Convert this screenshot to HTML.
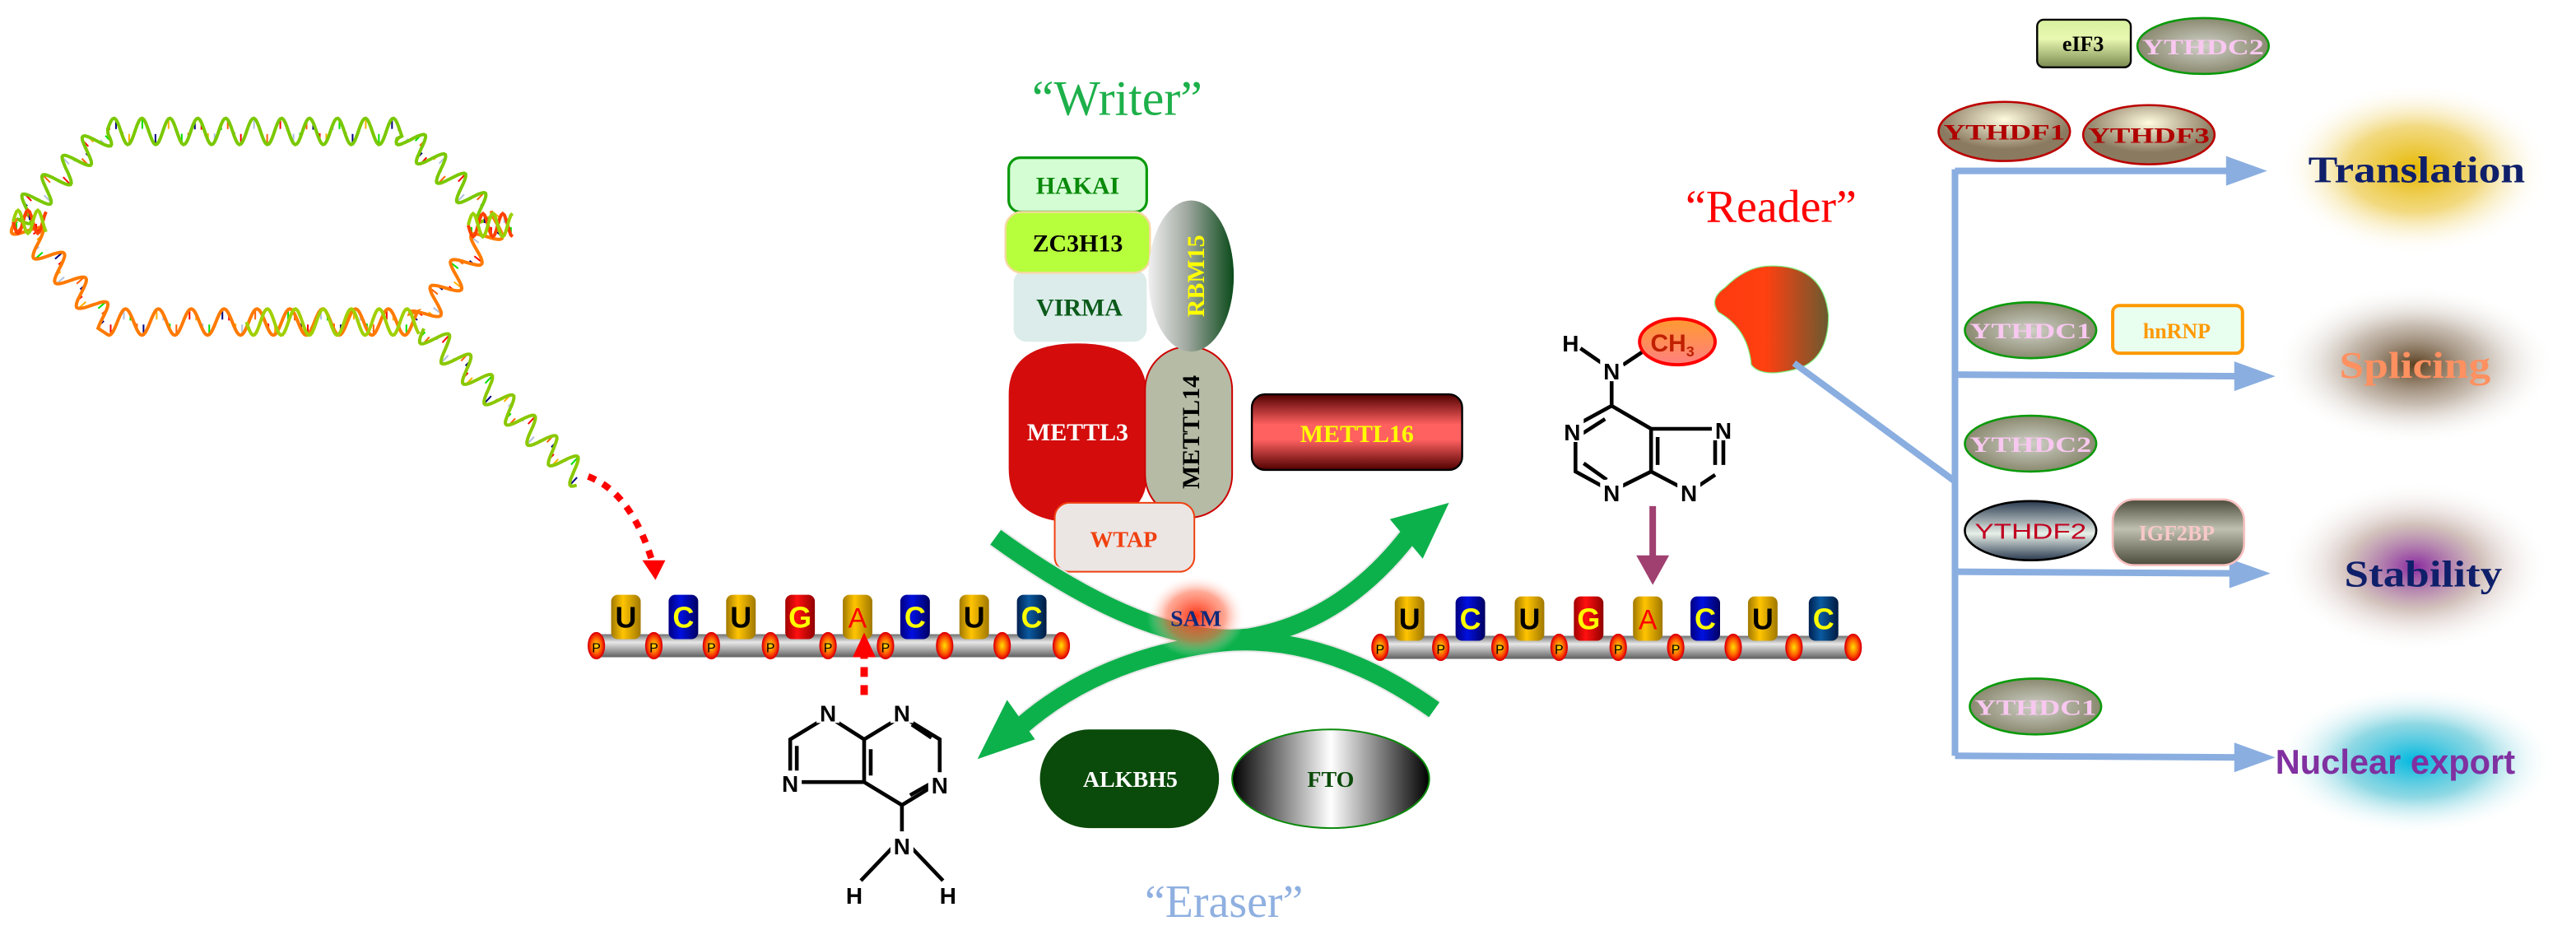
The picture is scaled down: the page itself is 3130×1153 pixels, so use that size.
<!DOCTYPE html>
<html><head><meta charset="utf-8"><style>
html,body{margin:0;padding:0;background:#fff;}
svg{display:block}
</style></head><body>
<svg id="s" width="3130" height="1153" viewBox="0 0 1568 577.6" preserveAspectRatio="none" xmlns="http://www.w3.org/2000/svg" font-family="Liberation Serif, serif" font-weight="bold">
<defs>
<radialGradient id="gTr"><stop offset="0" stop-color="#e6b800"/><stop offset="0.5" stop-color="#efd060" stop-opacity="0.8"/><stop offset="1" stop-color="#fff" stop-opacity="0"/></radialGradient>
<radialGradient id="gSp"><stop offset="0" stop-color="#5a4020"/><stop offset="0.5" stop-color="#b0a090" stop-opacity="0.7"/><stop offset="1" stop-color="#fff" stop-opacity="0"/></radialGradient>
<radialGradient id="gSt"><stop offset="0" stop-color="#8a2aa0"/><stop offset="0.5" stop-color="#c0a8a0" stop-opacity="0.7"/><stop offset="1" stop-color="#fff" stop-opacity="0"/></radialGradient>
<radialGradient id="gNu"><stop offset="0" stop-color="#00b8e0"/><stop offset="0.5" stop-color="#60c8d8" stop-opacity="0.7"/><stop offset="1" stop-color="#fff" stop-opacity="0"/></radialGradient>
<radialGradient id="gSam"><stop offset="0" stop-color="#ff3010"/><stop offset="0.6" stop-color="#ff7050" stop-opacity="0.6"/><stop offset="1" stop-color="#fff" stop-opacity="0"/></radialGradient>
<radialGradient id="gY"><stop offset="0" stop-color="#d0d0c8"/><stop offset="1" stop-color="#8a8a70"/></radialGradient>
<radialGradient id="gYF" cy="0.3"><stop offset="0" stop-color="#fffce0"/><stop offset="1" stop-color="#8a7a60"/></radialGradient>
<linearGradient id="gYF2" x1="0" y1="0" x2="0" y2="1"><stop offset="0" stop-color="#2a3a50"/><stop offset="0.55" stop-color="#e8f0e8"/><stop offset="1" stop-color="#2a3a50"/></linearGradient>
<linearGradient id="gIG" x1="0" y1="0" x2="0" y2="1"><stop offset="0" stop-color="#4a4a3a"/><stop offset="0.45" stop-color="#c0c0b0"/><stop offset="1" stop-color="#4a4a3a"/></linearGradient>
<linearGradient id="gEIF" x1="0" y1="0" x2="0" y2="1"><stop offset="0" stop-color="#d8f0a0"/><stop offset="0.4" stop-color="#e8f8b0"/><stop offset="1" stop-color="#7a8a50"/></linearGradient>
<linearGradient id="gRBM" x1="0" y1="0" x2="1" y2="0"><stop offset="0" stop-color="#f0f0f0"/><stop offset="0.45" stop-color="#a0a8a0"/><stop offset="1" stop-color="#0a4a1a"/></linearGradient>
<linearGradient id="gM16" x1="0" y1="0" x2="0" y2="1"><stop offset="0" stop-color="#500000"/><stop offset="0.4" stop-color="#ff6060"/><stop offset="0.6" stop-color="#ff6060"/><stop offset="1" stop-color="#500000"/></linearGradient>
<linearGradient id="gFTO" x1="0" y1="0" x2="1" y2="0"><stop offset="0" stop-color="#000"/><stop offset="0.5" stop-color="#fff"/><stop offset="1" stop-color="#000"/></linearGradient>
<linearGradient id="gRd" x1="0" y1="0" x2="1" y2="0"><stop offset="0" stop-color="#ff3a10"/><stop offset="0.45" stop-color="#ff4010"/><stop offset="1" stop-color="#6a5a30"/></linearGradient>
<linearGradient id="gCH" x1="0" y1="0" x2="0" y2="1"><stop offset="0" stop-color="#ff9a30"/><stop offset="1" stop-color="#ff8080"/></linearGradient>
<linearGradient id="gCyl" x1="0" y1="0" x2="0" y2="1"><stop offset="0" stop-color="#707070"/><stop offset="0.35" stop-color="#e8e8e8"/><stop offset="1" stop-color="#606060"/></linearGradient>
<linearGradient id="gGold" x1="0" y1="0" x2="1" y2="0"><stop offset="0" stop-color="#a07800"/><stop offset="0.4" stop-color="#ffc400"/><stop offset="1" stop-color="#a07800"/></linearGradient>
<linearGradient id="gBlue" x1="0" y1="0" x2="1" y2="0"><stop offset="0" stop-color="#000080"/><stop offset="0.4" stop-color="#0010e0"/><stop offset="1" stop-color="#000060"/></linearGradient>
<linearGradient id="gBlue2" x1="0" y1="0" x2="1" y2="0"><stop offset="0" stop-color="#002050"/><stop offset="0.4" stop-color="#0a5aa0"/><stop offset="1" stop-color="#001a40"/></linearGradient>
<linearGradient id="gRed" x1="0" y1="0" x2="1" y2="0"><stop offset="0" stop-color="#a00000"/><stop offset="0.4" stop-color="#ff1010"/><stop offset="1" stop-color="#900000"/></linearGradient>
<radialGradient id="gP"><stop offset="0" stop-color="#ffe000"/><stop offset="0.6" stop-color="#ff6000"/><stop offset="1" stop-color="#e00000"/></radialGradient>
</defs>

<g id="dna"></g>
<path d="M358,290 Q385,300 398,345" fill="none" stroke="#f00" stroke-width="4" stroke-dasharray="5,5"/>
<polygon points="391,341 405,341 399,353" fill="#f00"/>

<g id="rna"></g>

<!-- left adenine -->
<line x1="526" y1="395" x2="526" y2="428" stroke="#f00" stroke-width="4.5" stroke-dasharray="6,5"/>
<polygon points="519,400 533,400 526,385" fill="#f00"/>
<g stroke="#000" stroke-width="2.3" fill="none">
<path d="M504,436 L526,450 L549,436 M526,450 L526,476 L549,490 L572,476 L572,450 L549,436 M526,476 L481,476 L481,450 L504,436 M549,490 L549,514 M545,514 L524,536 M553,514 L574,536"/>
<path d="M530,456 L530,472 M485,454 L485,472 M554,484 L568,476 M555,441 L567,449"/>
</g>
<g font-family="Liberation Sans, sans-serif" font-size="14" text-anchor="middle">
<rect x="497" y="426" width="14" height="14" fill="#fff"/><text x="504" y="439">N</text>
<rect x="542" y="426" width="14" height="14" fill="#fff"/><text x="549" y="439">N</text>
<rect x="474" y="469" width="14" height="14" fill="#fff"/><text x="481" y="482">N</text>
<rect x="565" y="470" width="14" height="14" fill="#fff"/><text x="572" y="483">N</text>
<rect x="542" y="506" width="14" height="15" fill="#fff"/><text x="549" y="520">N</text>
<text x="520" y="550">H</text><text x="577" y="550">H</text>
</g>

<!-- writer -->
<text x="680" y="70" font-size="30" fill="#1db04a" text-anchor="middle" font-weight="normal">“Writer”</text>
<rect x="614" y="96" width="84" height="33" rx="7" fill="#d4fdd4" stroke="#0a9a0a" stroke-width="1.6"/>
<text x="656" y="118" font-size="15" fill="#0a8a0a" text-anchor="middle">HAKAI</text>
<rect x="617" y="164" width="81" height="44" rx="8" fill="#dbecea"/>
<rect x="612" y="129" width="88" height="37" rx="10" fill="#b7ff3c" stroke="#f5d8a0" stroke-width="1.2"/>
<text x="656" y="153" font-size="15" fill="#000" text-anchor="middle">ZC3H13</text>
<text x="657" y="192" font-size="15" fill="#0b5a1a" text-anchor="middle">VIRMA</text>
<path d="M614,240 Q614,209 656,209 Q698,209 698,240 L698,290 Q698,318 656,318 Q614,318 614,285 Z" fill="#d40c0c"/>
<text x="656" y="268" font-size="15" fill="#fff" text-anchor="middle">METTL3</text>
<rect x="697" y="211" width="53" height="104" rx="26" fill="#b5bba5" stroke="#c00" stroke-width="1"/>
<text transform="translate(730,263) rotate(-90)" font-size="15" fill="#000" text-anchor="middle">METTL14</text>
<ellipse cx="725" cy="168" rx="26" ry="46" fill="url(#gRBM)"/>
<text transform="translate(733,168) rotate(-90)" font-size="15" fill="#ffff00" text-anchor="middle">RBM15</text>
<rect x="642" y="306" width="85" height="42" rx="9" fill="#ebe5e3" stroke="#f04010" stroke-width="1"/>
<text x="684" y="333" font-size="14" fill="#f04010" text-anchor="middle">WTAP</text>
<rect x="762" y="240" width="128" height="46" rx="8" fill="url(#gM16)" stroke="#000" stroke-width="1.2"/>
<text x="826" y="269" font-size="15" fill="#ffff00" text-anchor="middle">METTL16</text>

<!-- green arrows -->
<g fill="none" stroke="#e8e8e8" stroke-width="13"><path d="M606,327 Q700,395 760,388 Q820,378 862,320"/><path d="M873,432 Q800,380 730,393 Q660,405 615,448"/></g>
<g fill="none" stroke="#0db14b" stroke-width="11"><path d="M606,327 Q700,395 760,388 Q820,378 862,320"/><path d="M873,432 Q800,380 730,393 Q660,405 615,448"/></g>
<polygon points="846,316 882,306 866,340" fill="#0db14b"/>
<polygon points="595,462 613,426 630,450" fill="#0db14b"/>
<ellipse cx="728" cy="375" rx="30" ry="25" fill="url(#gSam)"/>
<text x="728" y="381" font-size="14" fill="#0f2a7a" text-anchor="middle">SAM</text>

<!-- eraser -->
<rect x="633" y="444" width="109" height="60" rx="30" fill="#0a4a0a"/>
<text x="688" y="479" font-size="14" fill="#fff" text-anchor="middle">ALKBH5</text>
<ellipse cx="810" cy="474" rx="60" ry="30" fill="url(#gFTO)" stroke="#0a8a0a" stroke-width="1"/>
<text x="810" y="479" font-size="14" fill="#0a4a0a" text-anchor="middle">FTO</text>
<text x="745" y="558" font-size="28" fill="#8fb0e0" text-anchor="middle" font-weight="normal">“Eraser”</text>

<!-- reader -->
<text x="1078" y="135" font-size="28" fill="#f00" text-anchor="middle" font-weight="normal">“Reader”</text>
<path d="M1075,162 Q1110,160 1113,192 Q1113,220 1092,225 Q1072,230 1066,222 Q1064,200 1046,190 Q1040,182 1050,175 Q1062,163 1075,162 Z" fill="url(#gRd)" stroke="#80f080" stroke-width="0.6"/>
<line x1="1092" y1="221" x2="1190" y2="293" stroke="#8aaee0" stroke-width="4"/>
<g stroke="#000" stroke-width="2.3" fill="none">
<path d="M981,231 L981,247 L959,259 L959,287 L981,299 L1005,287 L1005,261 L981,247 M1005,261 L1043,261 M1049,266 L1049,283 M1044,289 L1032,297 M1024,297 L1005,287 M1009,266 L1009,283 M1044,268 L1044,283 M963,264 L977,255 M964,282 L978,292 M975,221 L962,212 M988,222 L1000,214"/>
</g>
<g font-size="14" text-anchor="middle" font-family="Liberation Sans, sans-serif">
<rect x="974" y="218" width="14" height="14" fill="#fff"/><text x="981" y="231">N</text>
<text x="956" y="214">H</text>
<rect x="950" y="255" width="14" height="14" fill="#fff"/><text x="957" y="268">N</text>
<rect x="974" y="292" width="14" height="14" fill="#fff"/><text x="981" y="305">N</text>
<rect x="1042" y="254" width="14" height="14" fill="#fff"/><text x="1049" y="267">N</text>
<rect x="1021" y="292" width="14" height="14" fill="#fff"/><text x="1028" y="305">N</text>
</g>
<ellipse cx="1021" cy="208" rx="23" ry="14" fill="url(#gCH)" stroke="#f00" stroke-width="2"/>
<text x="1018" y="214" font-size="15" fill="#c02000" text-anchor="middle" font-family="Liberation Sans, sans-serif">CH<tspan font-size="9" dy="3">3</tspan></text>
<line x1="1006" y1="308" x2="1006" y2="342" stroke="#a04070" stroke-width="4"/>
<polygon points="996,338 1016,338 1006,356" fill="#a04070"/>

<!-- right panel -->
<g stroke="#8aaee0" stroke-width="4" fill="none">
<path d="M1190,103 L1190,460"/>
<path d="M1190,104 L1360,104"/><path d="M1190,228 L1365,229"/><path d="M1190,348 L1362,349"/><path d="M1190,460 L1365,461"/>
</g>
<g fill="#8aaee0"><polygon points="1355,95 1380,104 1355,113"/><polygon points="1360,220 1385,229 1360,238"/><polygon points="1357,340 1382,349 1357,358"/><polygon points="1360,452 1385,461 1360,470"/></g>

<ellipse cx="1470" cy="103" rx="82" ry="52" fill="url(#gTr)"/>
<ellipse cx="1470" cy="222" rx="85" ry="48" fill="url(#gSp)"/>
<ellipse cx="1470" cy="345" rx="82" ry="52" fill="url(#gSt)"/>
<ellipse cx="1470" cy="463" rx="85" ry="45" fill="url(#gNu)"/>
<text x="1471" y="111" font-size="23" fill="#0f1f6a" text-anchor="middle" textLength="132" lengthAdjust="spacingAndGlyphs">Translation</text>
<text x="1470" y="230" font-size="23" fill="#ff9060" text-anchor="middle" textLength="92" lengthAdjust="spacingAndGlyphs">Splicing</text>
<text x="1475" y="357" font-size="23" fill="#0f1f6a" text-anchor="middle" textLength="96" lengthAdjust="spacingAndGlyphs">Stability</text>
<text x="1458" y="471" font-size="21" fill="#8030a0" text-anchor="middle" font-family="Liberation Sans, sans-serif" textLength="146" lengthAdjust="spacingAndGlyphs">Nuclear export</text>

<rect x="1240" y="12" width="57" height="29" rx="4" fill="url(#gEIF)" stroke="#000" stroke-width="1.2"/>
<text x="1268" y="31" font-size="13" text-anchor="middle">eIF3</text>
<g font-size="13" text-anchor="middle">
<ellipse cx="1341" cy="28" rx="40" ry="17" fill="url(#gY)" stroke="#0a9a0a" stroke-width="1.3"/><text x="1341" y="33" fill="#f8c8f0" textLength="74" lengthAdjust="spacingAndGlyphs">YTHDC2</text>
<ellipse cx="1220" cy="80" rx="40" ry="18" fill="url(#gYF)" stroke="#b00" stroke-width="1.3"/><text x="1220" y="85" fill="#b00000" textLength="74" lengthAdjust="spacingAndGlyphs">YTHDF1</text>
<ellipse cx="1308" cy="82" rx="40" ry="18" fill="url(#gYF)" stroke="#b00" stroke-width="1.3"/><text x="1308" y="87" fill="#b00000" textLength="74" lengthAdjust="spacingAndGlyphs">YTHDF3</text>
<ellipse cx="1236" cy="201" rx="40" ry="17" fill="url(#gY)" stroke="#0a9a0a" stroke-width="1.3"/><text x="1236" y="206" fill="#f8c8f0" textLength="74" lengthAdjust="spacingAndGlyphs">YTHDC1</text>
<rect x="1286" y="186" width="79" height="29" rx="4" fill="#e8fff0" stroke="#ff9900" stroke-width="2"/><text x="1325" y="206" fill="#ff9900">hnRNP</text>
<ellipse cx="1236" cy="270" rx="40" ry="17" fill="url(#gY)" stroke="#0a9a0a" stroke-width="1.3"/><text x="1236" y="275" fill="#f8c8f0" textLength="74" lengthAdjust="spacingAndGlyphs">YTHDC2</text>
<ellipse cx="1236" cy="323" rx="40" ry="18" fill="url(#gYF2)" stroke="#000" stroke-width="1.3"/><text x="1236" y="328" fill="#c00020" font-weight="normal" font-family="Liberation Sans, sans-serif" textLength="68" lengthAdjust="spacingAndGlyphs">YTHDF2</text>
<rect x="1286" y="304" width="80" height="40" rx="13" fill="url(#gIG)" stroke="#f8c0c0" stroke-width="1.3"/><text x="1325" y="329" fill="#f8c8c8">IGF2BP</text>
<ellipse cx="1239" cy="430" rx="40" ry="17" fill="url(#gY)" stroke="#0a9a0a" stroke-width="1.3"/><text x="1239" y="435" fill="#f8c8f0" textLength="74" lengthAdjust="spacingAndGlyphs">YTHDC1</text>
</g>
</svg>
<script>
(function(){
var NS="http://www.w3.org/2000/svg";
function el(p,t,a){var e=document.createElementNS(NS,t);for(var k in a)e.setAttribute(k,a[k]);p.appendChild(e);return e;}
var rna=document.getElementById('rna');
var seq=[['U','url(#gGold)','#000'],['C','url(#gBlue)','#ff0'],['U','url(#gGold)','#000'],['G','url(#gRed)','#ff0'],['A','url(#gGold)','#f00'],['C','url(#gBlue)','#ff0'],['U','url(#gGold)','#000'],['C','url(#gBlue2)','#ff0']];
function strand(xs,y0){
  for(var i=0;i<8;i++){
    el(rna,'rect',{x:xs[i]-18,y:y0+24,width:36,height:14,rx:2,fill:'url(#gCyl)'});
  }
  for(var i=0;i<8;i++){
    var x=xs[i];
    el(rna,'rect',{x:x-9,y:y0,width:18,height:27,rx:4,fill:seq[i][1]});
    var isA=seq[i][0]=='A';
    var t=el(rna,'text',{x:x,y:y0+20,'font-size':isA?17:18,'text-anchor':'middle',fill:seq[i][2],'font-family':'Liberation Sans, sans-serif','font-weight':isA?'normal':'bold'});
    t.textContent=seq[i][0];
  }
  for(var i=0;i<9;i++){
    var x=(i<8?xs[i]:xs[7]+36)-18;
    el(rna,'ellipse',{cx:x,cy:y0+31,rx:5,ry:8,fill:'url(#gP)',stroke:'#d00','stroke-width':0.6});
    if(i<6){var t=el(rna,'text',{x:x,y:y0+35,'font-size':8,'text-anchor':'middle',fill:'#000','font-family':'Liberation Sans, sans-serif','font-weight':'normal'});t.textContent='P';}
  }
}
strand([381,416,451,487,522,557,593,628],362);
strand([858,895,931,967,1003,1038,1073,1110],363);
var d=document.getElementById('dna');
var cols=['#00e000','#ff6000','#000080','#f00','#ffb000','#b0c0e0'];
function helix(pts,amp,per,c1,c2,rungs){
  var L=0,seg=[];
  for(var i=0;i<pts.length-1;i++){var dx=pts[i+1][0]-pts[i][0],dy=pts[i+1][1]-pts[i][1],l=Math.hypot(dx,dy);seg.push([pts[i],dx/l,dy/l,l]);L+=l;}
  function at(s){for(var i=0;i<seg.length;i++){if(s<=seg[i][3]||i==seg.length-1){var g=seg[i];return [g[0][0]+g[1]*s,g[0][1]+g[2]*s,g[1],g[2]];}s-=seg[i][3];}}
  var a='',b='';
  for(var s=0;s<=L;s+=1){var p=at(s),nx=-p[3],ny=p[2],w=Math.sin(s/per*2*Math.PI)*amp;
    a+=(s?'L':'M')+(p[0]+nx*w).toFixed(1)+','+(p[1]+ny*w).toFixed(1);
    b+=(s?'L':'M')+(p[0]-nx*w).toFixed(1)+','+(p[1]-ny*w).toFixed(1);}
  if(rungs){for(var s=2,k=0;s<L;s+=4,k++){var p=at(s),nx=-p[3],ny=p[2],w=Math.sin(s/per*2*Math.PI)*amp;
    el(d,'line',{x1:p[0]+nx*w*0.9,y1:p[1]+ny*w*0.9,x2:p[0]+nx*w*0.2,y2:p[1]+ny*w*0.2,stroke:cols[k%6],'stroke-width':1});}}
  el(d,'path',{d:a,fill:'none',stroke:c1,'stroke-width':2});
  if(c2)el(d,'path',{d:b,fill:'none',stroke:c2,'stroke-width':2});
}
helix([[10,133],[65,80],[245,80],[300,133]],8,17,'#7ac800',null,true);
helix([[10,133],[65,196],[255,196],[305,133]],8,20,'#ff7a00',null,true);
helix([[150,196],[255,196]],8,17,'#a0d000',null,false);
helix([[8,135],[28,135]],7,12,'#ff4000','#9ad000',true);
helix([[285,137],[312,137]],7,12,'#ff4000','#9ad000',true);
helix([[258,200],[355,292]],8,18,'#8ac800',null,true);
})();
</script>
</body></html>
